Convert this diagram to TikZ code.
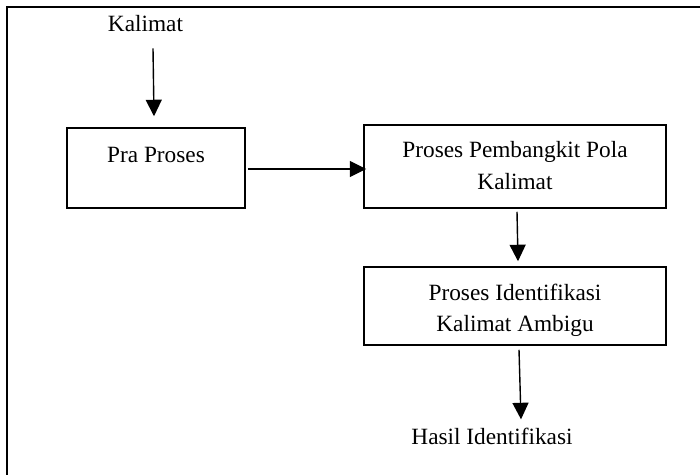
\documentclass[tikz,border=0pt]{standalone}
\usepackage{fontspec}
\setmainfont{Liberation Serif}
\usetikzlibrary{arrows.meta,calc}
\begin{document}
\begin{tikzpicture}[x=1pt,y=-1pt,
  box/.style={draw,line width=1.5pt,inner sep=0pt,minimum width=#1},
  lbl/.style={inner sep=0pt,anchor=base,font=\fontsize{23.3pt}{32pt}\selectfont,align=center},
  arr/.style={line width=1.4pt,-{Triangle[length=16.5pt,width=16pt]}}]
\useasboundingbox (0,0) rectangle (700,474);
\fill[white] (0,0) rectangle (700,474);
\draw[line width=2pt] (7,480) -- (7,7) -- (705,7);
% boxes
\node[box=178pt,minimum height=80pt] (pra) at (156,168) {};
\node[box=302pt,minimum height=83pt] (pemb) at (515,166.5) {};
\node[box=302pt,minimum height=78pt] (ident) at (515,306) {};
% texts
\node[lbl] (kal) at (145.5,31.3) {Kalimat};
\node[lbl] (tpra) at (156,162.3) {Pra Proses};
\node[lbl] (tpemb1) at (515,157.3) {Proses Pembangkit Pola};
\node[lbl] (tpemb2) at (515,189.3) {Kalimat};
\node[lbl] (tid1) at (515,300) {Proses Identifikasi};
\node[lbl] (tid2) at (515,331.7) {Kalimat Ambigu};
\node[lbl] (hasil) at (492,444.3) {Hasil Identifikasi};
% arrows
\draw[arr] ([xshift=7.5pt,yshift=-16.7pt]kal.south) -- ([xshift=-2pt,yshift=11pt]pra.north);
\draw[arr] ([xshift=2pt,yshift=-1pt]pra.east) -- ([xshift=3pt,yshift=-1pt]pra.east -| pemb.west);
\draw[arr] ([xshift=2pt,yshift=-3pt]pemb.south) -- ([xshift=3pt,yshift=5pt]ident.north);
\draw[arr] ([xshift=4pt,yshift=-4pt]ident.south) -- ([xshift=29pt,yshift=8.4pt]hasil.north);
\end{tikzpicture}
\end{document}
